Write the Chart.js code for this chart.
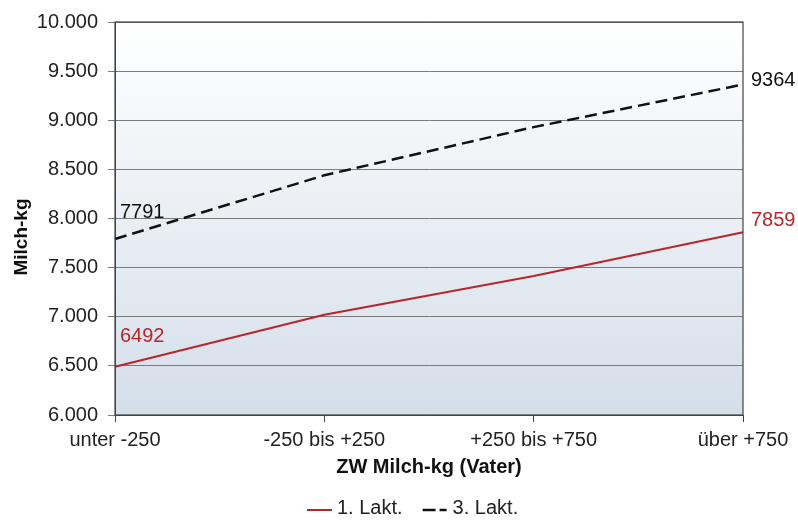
<!DOCTYPE html>
<html><head><meta charset="utf-8">
<script src="https://cdn.jsdelivr.net/npm/chart.js@4/dist/chart.umd.min.js"></script>
<style>html,body{margin:0;padding:0;background:#fff}#wrap{width:798px;height:520px}</style>
</head><body><div id="wrap"><canvas id="c" width="798" height="520"></canvas></div>
<script>
const categories = ['unter -250', '-250 bis +250', '+250 bis +750', 'über +750'];
const lakt1 = [6492, 7020, 7415, 7859];
const lakt3 = [7791, 8440, 8930, 9364];
const seriesNames = ['1. Lakt.', '3. Lakt.'];
const yTicks = [6000, 6500, 7000, 7500, 8000, 8500, 9000, 9500, 10000];
const yTitle = 'Milch-kg';
const xTitle = 'ZW Milch-kg (Vater)';

const FONT = "'Liberation Sans', Arial, sans-serif";

const bgPlugin = {
  id: 'bg',
  beforeDraw(chart) {
    const {ctx, chartArea: a} = chart;
    const g = ctx.createLinearGradient(0, a.top, 0, a.bottom);
    g.addColorStop(0, '#ffffff');
    g.addColorStop(1, '#d4dee9');
    ctx.save();
    ctx.fillStyle = g;
    ctx.fillRect(a.left, a.top, a.right - a.left, a.bottom - a.top);
    ctx.restore();
  },
  afterDatasetsDraw(chart) {
    const {ctx, chartArea: a} = chart;
    ctx.save();
    ctx.strokeStyle = '#444';
    ctx.lineWidth = 1.2;
    ctx.strokeRect(a.left, a.top, a.right - a.left, a.bottom - a.top);
    ctx.restore();
  }
};

const labelPlugin = {
  id: 'lbls',
  afterDatasetsDraw(chart) {
    const {ctx} = chart;
    ctx.save();
    ctx.font = '20px ' + FONT;
    ctx.textBaseline = 'middle';
    ctx.textAlign = 'left';
    chart.data.datasets.forEach((ds, di) => {
      const meta = chart.getDatasetMeta(di);
      const n = ds.data.length;
      ctx.fillStyle = ds.labelColor;
      const p0 = meta.data[0], pn = meta.data[n - 1];
      ctx.fillText(String(ds.data[0]), p0.x + 5, p0.y + ds.labelDy[0]);
      ctx.fillText(String(ds.data[n - 1]), pn.x + 8, pn.y + ds.labelDy[1]);
    });
    // rotated y-axis title
    ctx.save();
    ctx.translate(22, 237);
    ctx.rotate(-Math.PI / 2);
    ctx.textAlign = 'center';
    ctx.fillStyle = '#111';
    ctx.font = 'bold 19px ' + FONT;
    ctx.fillText(yTitle, 0, 0);
    ctx.restore();
    ctx.restore();
  }
};

const legendPlugin = {
  id: 'customLegend',
  afterDraw(chart) {
    const {ctx} = chart;
    ctx.save();
    ctx.font = '20px ' + FONT;
    ctx.textBaseline = 'middle';
    ctx.textAlign = 'left';
    const y = 508;
    let x = 307;
    chart.data.datasets.forEach((ds, i) => {
      ctx.strokeStyle = ds.borderColor;
      ctx.lineWidth = ds.borderWidth;
      ctx.setLineDash(ds.legendDash || []);
      ctx.beginPath();
      ctx.moveTo(x, y + 2);
      ctx.lineTo(x + 25, y + 2);
      ctx.stroke();
      ctx.setLineDash([]);
      x += 30;
      ctx.fillStyle = '#222';
      ctx.fillText(ds.label, x, y);
      x += ctx.measureText(ds.label).width + 20;
    });
    ctx.restore();
  }
};

new Chart(document.getElementById('c'), {
  type: 'line',
  data: {
    labels: categories,
    datasets: [
      {label: seriesNames[0], data: lakt1, borderColor: '#b8262c', backgroundColor: '#b8262c', borderWidth: 2, pointRadius: 0, tension: 0, labelColor: '#b8262c', labelDy: [-30, -12]},
      {label: seriesNames[1], data: lakt3, borderColor: '#111', backgroundColor: '#111', borderWidth: 2.5, borderDash: [12, 6], legendDash: [13, 4, 7, 10], pointRadius: 0, tension: 0, labelColor: '#111', labelDy: [-27, -4]}
    ]
  },
  options: {
    responsive: false,
    animation: false,
    layout: {padding: {left: 0, right: 55, top: 21, bottom: 39}},
    plugins: {
      tooltip: {enabled: false},
      legend: {display: false}
    },
    scales: {
      x: {
        offset: false,
        grid: {drawOnChartArea: false, drawTicks: true, tickLength: 7, color: '#444'},
        border: {color: '#444'},
        ticks: {color: '#222', font: {family: FONT, size: 20}, padding: 6, maxRotation: 0, autoSkip: false},
        title: {display: true, text: xTitle, color: '#111', font: {family: FONT, size: 20, weight: 'bold'}, padding: {top: 0, bottom: 2}},
        afterFit(s) { s.height = 66; }
      },
      y: {
        min: 6000, max: 10000,
        afterBuildTicks(s) { s.ticks = yTicks.map(v => ({value: v})); },
        grid: {color: '#7a7a7a', lineWidth: 1, tickLength: 7, drawTicks: true},
        border: {color: '#444'},
        ticks: {color: '#222', font: {family: FONT, size: 20}, padding: 10,
          callback: v => v.toLocaleString('de-DE', {minimumFractionDigits: 3}).replace(/,000$/, '') },
        title: {display: false},
        afterFit(s) { s.width = 115; }
      }
    }
  },
  plugins: [bgPlugin, labelPlugin, legendPlugin]
});
</script></body></html>
